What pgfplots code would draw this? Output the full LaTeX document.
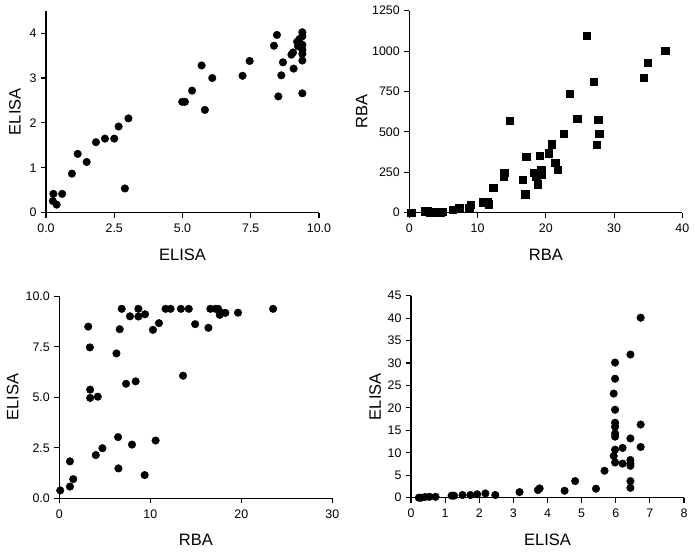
\documentclass[border=0pt]{standalone}
\usepackage{fontspec}
\setmainfont{Liberation Sans}
\usepackage{pgfplots}
\pgfplotsset{compat=1.18}

\pgfplotsset{
  panel/.style={
    scale only axis, width=273pt, height=202pt,
    anchor=south west,
    axis lines=left,
    axis line style={-, line width=1.1pt, black},
    tick style={line width=1.1pt, black},
    major tick length=5pt,
    tick align=outside,
    enlargelimits=false,
    clip=false,
    tick label style={font=\fontsize{12.4}{14}\selectfont},
    xticklabel style={yshift=-3pt},
    yticklabel style={xshift=-1pt},
    label style={font=\fontsize{16.5}{18}\selectfont},
    /pgf/number format/assume math mode=true,
  },
  dots/.style={only marks, mark=*, mark size=3.8pt, black, mark options={fill=black, draw=black}},
  boxes/.style={only marks, mark=square*, mark size=3.7pt, black, mark options={fill=black, draw=black}},
}

\begin{document}
\begin{tikzpicture}
\useasboundingbox (0,0) rectangle (695pt,552pt);

% top left
\begin{axis}[panel, at={(46pt,339.3pt)},
  xmin=0, xmax=10, ymin=0, ymax=4.5,
  xtick={0,2.5,5,7.5,10}, xticklabels={0.0,2.5,5.0,7.5,10.0},
  ytick={0,1,2,3,4}, yticklabels={0,1,2,3,4},
  xlabel={ELISA}, ylabel={ELISA},
  xlabel style={at={(axis description cs:0.5,-0.208)}, anchor=center},
  ylabel style={at={(axis description cs:-0.114,0.5)}, anchor=center},
]
\addplot[dots] coordinates {
(0.27,0.42) (0.25,0.26) (0.39,0.18) (0.59,0.42) (0.95,0.87) (1.16,1.31) (1.49,1.13)
(1.83,1.57) (2.16,1.65) (2.50,1.65) (2.66,1.92) (3.02,2.10) (2.89,0.54)
(4.99,2.47) (5.09,2.47) (5.35,2.72) (5.70,3.28) (5.82,2.29) (6.09,3.00)
(7.20,3.05) (7.46,3.38) (8.35,3.72) (8.46,3.96) (8.51,2.59) (8.62,3.06) (8.68,3.35)
(8.99,3.52) (9.05,3.57) (9.07,3.21) (9.20,3.81) (9.29,3.87) (9.23,3.71)
(9.39,4.02) (9.39,3.93) (9.39,3.74) (9.39,3.63) (9.39,3.54) (9.39,3.39) (9.39,2.66)
};
\end{axis}

% top right
\begin{axis}[panel, at={(409.3pt,339.3pt)},
  xmin=0, xmax=40, ymin=0, ymax=1250,
  xtick={0,10,20,30,40}, xticklabels={0,10,20,30,40},
  ytick={0,250,500,750,1000,1250}, yticklabels={0,250,500,750,1000,1250},
  xlabel={RBA}, ylabel={RBA},
  xlabel style={at={(axis description cs:0.5,-0.208)}, anchor=center},
  ylabel style={at={(axis description cs:-0.174,0.5)}, anchor=center},
]
\addplot[boxes] coordinates {
(0.2,0) (0.3,0) (2.3,10) (2.6,12) (3.0,4) (3.7,2) (4.5,4) (4.9,6)
(6.4,20) (7.3,27) (8.8,27) (9.0,51) (10.8,66) (11.4,66) (11.6,53) (12.3,154)
(13.8,226) (13.9,247) (14.7,570) (16.6,206) (17.1,345) (17.0,115)
(18.3,247) (18.6,222) (18.8,177) (19.1,352) (19.3,263) (19.4,238)
(20.4,368) (20.9,424) (21.4,310) (21.7,267) (22.6,489) (23.5,736) (24.6,580)
(26.0,1094) (27.0,810) (27.5,419) (27.7,576) (27.8,487)
(34.3,837) (34.9,927) (37.5,1003)
};
\end{axis}

% bottom left
\begin{axis}[panel, at={(59.3pt,53.7pt)},
  xmin=0, xmax=30, ymin=0, ymax=10,
  xtick={0,10,20,30}, xticklabels={0,10,20,30},
  ytick={0,2.5,5,7.5,10}, yticklabels={0.0,2.5,5.0,7.5,10.0},
  xlabel={RBA}, ylabel={ELISA},
  xlabel style={at={(axis description cs:0.5,-0.208)}, anchor=center},
  ylabel style={at={(axis description cs:-0.171,0.5)}, anchor=center},
]
\addplot[dots] coordinates {
(0.10,0.39) (1.17,0.58) (1.17,1.83) (1.53,0.95) (3.18,8.50) (3.36,7.47)
(3.39,5.38) (3.39,4.97) (4.23,5.03) (4.01,2.14) (4.74,2.48) (6.28,7.17)
(6.46,3.03) (6.50,1.48) (6.64,8.37) (6.86,9.38) (7.34,5.67) (7.77,9.01)
(7.99,2.66) (8.39,5.79) (8.69,9.38) (8.69,9.00) (9.38,1.15) (9.42,9.11)
(10.29,8.34) (10.58,2.86) (10.95,8.67) (11.68,9.38) (12.23,9.38) (13.36,9.38)
(13.60,6.07) (14.23,9.38) (14.93,8.62) (16.39,8.44) (16.60,9.38) (17.15,9.38)
(17.45,9.38) (17.63,9.08) (17.70,9.21) (18.25,9.18) (19.64,9.19) (23.50,9.38)
};
\end{axis}

% bottom right
\begin{axis}[panel, at={(411pt,54.3pt)},
  xmin=0, xmax=8, ymin=0, ymax=45,
  xtick={0,1,...,8}, xticklabels={0,1,2,3,4,5,6,7,8},
  ytick={0,5,...,45}, yticklabels={0,5,10,15,20,25,30,35,40,45},
  xlabel={ELISA}, ylabel={ELISA},
  xlabel style={at={(axis description cs:0.5,-0.208)}, anchor=center},
  ylabel style={at={(axis description cs:-0.131,0.5)}, anchor=center},
]
\addplot[dots] coordinates {
(0.23,0) (0.29,0) (0.41,0.15) (0.54,0.2) (0.72,0.2) (1.19,0.45) (1.26,0.45)
(1.51,0.6) (1.74,0.6) (1.94,0.75) (2.18,0.95) (2.47,0.6) (3.18,1.25)
(3.72,1.7) (3.77,2.07) (4.50,1.55) (4.81,3.7) (5.42,2.0) (5.67,6.0)
(5.98,30.1) (5.98,26.5) (5.94,23.2) (5.98,19.6) (5.98,16.7) (5.98,15.8)
(5.98,14.3) (5.98,13.6) (5.98,10.7) (5.94,9.3) (5.98,7.85)
(6.20,11.1) (6.20,7.6) (6.43,31.9) (6.43,13.2) (6.43,8.4) (6.43,7.6) (6.43,7.1)
(6.43,3.7) (6.43,2.2) (6.73,40.1) (6.73,16.3) (6.73,11.3)
};
\end{axis}
\end{tikzpicture}
\end{document}
